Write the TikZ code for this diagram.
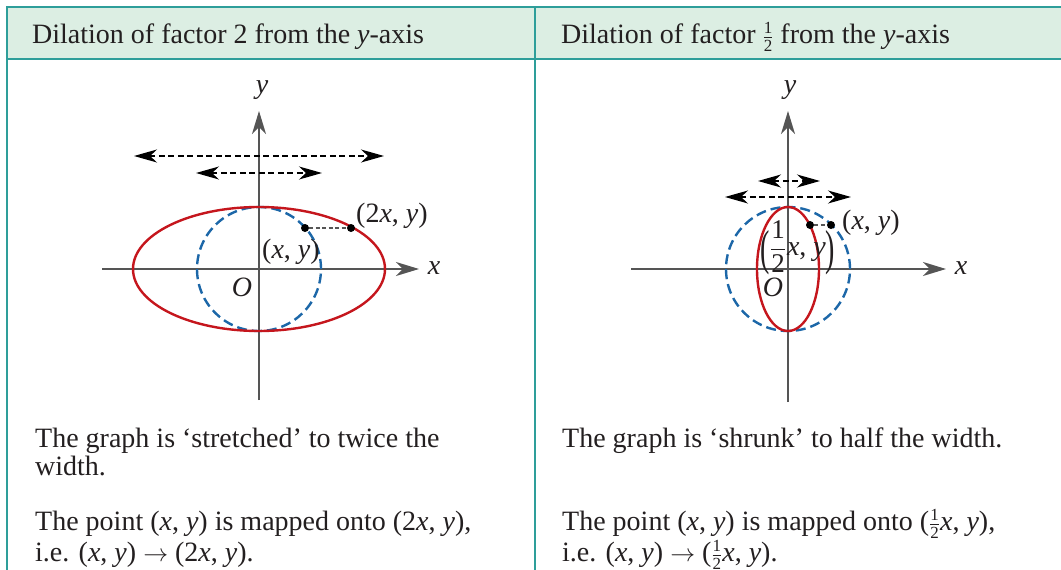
\documentclass[tikz,border=0pt]{standalone}
\usepackage{fontspec}
\setmainfont{Liberation Serif}
\usetikzlibrary{arrows.meta}
\definecolor{tealline}{HTML}{2E9E9A}
\definecolor{hdrfill}{HTML}{DCEEE3}
\definecolor{ellred}{HTML}{C5161D}
\definecolor{circblue}{HTML}{1C67A8}
\definecolor{axgray}{HTML}{555555}
\definecolor{txt}{HTML}{231F20}
\newcommand\ix{\textit{x}}
\newcommand\iy{\textit{y}}
\newcommand\fracdig[1]{\mbox{\fontsize{17}{17}\selectfont #1}}
\newcommand\thalf{$\frac{\fracdig{1}}{\fracdig{2}}$}
\newcommand\bigdig[1]{\mbox{\fontsize{27}{27}\selectfont #1}}
\begin{document}
\begin{tikzpicture}[x=1pt,y=-1pt,
  every node/.style={font=\fontsize{28}{32}\selectfont, inner sep=0pt, text=txt},
  txtline/.style={anchor=base west},
  border/.style={draw=tealline, line width=1.5pt},
  axisline/.style={draw=axgray, line width=1.6pt, -{Stealth[length=23pt,width=14pt,inset=7pt]}, shorten >=-1pt},
  dimarrow/.style={draw=black, line width=1.3pt, dash pattern=on 6pt off 3.5pt,
     {Stealth[length=23pt,width=13pt,inset=7pt]}-{Stealth[length=23pt,width=13pt,inset=7pt]}},
  circ/.style={draw=circblue, line width=2.4pt, dash pattern=on 10pt off 5pt},
  ell/.style={draw=ellred, line width=2.4pt},
  dot/.style={circle, fill=black, minimum size=8pt, inner sep=0pt},
  link/.style={draw=axgray, line width=1.3pt, dash pattern=on 4pt off 2.5pt},
]
\useasboundingbox (0,0) rectangle (1061,570);
% table
\fill[hdrfill] (7,7) rectangle (1061,59);
\draw[border] (1061,7) -- (7,7) -- (7,570);
\draw[border] (7,59) -- (1061,59);
\draw[border] (535,7) -- (535,570);
% headers
\node[txtline] (h1) at (32,43) {Dilation of factor 2 from the \iy-axis};
\node[txtline] (h2) at (561,43) {Dilation of factor \thalf{} from the \iy-axis};

% ---------- left diagram ----------
\coordinate (lxs) at (102,269); \coordinate (lxe) at (418,269);
\coordinate (lys) at (259,400); \coordinate (lye) at (259,112);
\draw[axisline] (lxs) -- (lxe);
\draw[axisline] (lys) -- (lye);
\node (lxl) at (434,268) {\ix};
\node (lyl) at (262,90) {\iy};
\node (lO) at (242,287) {\textit{O}};
\draw[circ] (259,269) circle[radius=62pt];
\draw[ell] (259,269) ellipse[x radius=126pt, y radius=62pt];
\coordinate (la1) at (134,156); \coordinate (la2) at (384,156);
\coordinate (lb1) at (196,173); \coordinate (lb2) at (322,173);
\draw[dimarrow] (la1) -- (la2);
\draw[dimarrow] (lb1) -- (lb2);
\node[dot] (lp) at (305,228) {};
\node[dot] (lq) at (351,228) {};
\draw[link] (lp) -- (lq);
\node[anchor=west] (lql) at (356,216) {(2\ix, \iy)};
\node (lpl) at (291,252) {(\ix, \iy)};

% ---------- right diagram ----------
\coordinate (rxs) at (631,269); \coordinate (rxe) at (945,269);
\coordinate (rys) at (788,402); \coordinate (rye) at (788,112);
\draw[axisline] (rxs) -- (rxe);
\draw[axisline] (rys) -- (rye);
\node (rxl) at (961,268) {\ix};
\node (ryl) at (790,90) {\iy};
\node (rO) at (773,287) {\textit{O}};
\draw[circ] (788,269) circle[radius=62pt];
\draw[ell] (788,269) ellipse[x radius=31pt, y radius=62pt];
\coordinate (ra1) at (758,181); \coordinate (ra2) at (820,181);
\coordinate (rb1) at (725,197); \coordinate (rb2) at (851,197);
\draw[dimarrow] (ra1) -- (ra2);
\draw[dimarrow] (rb1) -- (rb2);
\node[dot] (rp) at (810,225) {};
\node[dot] (rq) at (831,225) {};
\draw[link] (rp) -- (rq);
\node[anchor=west] (rql) at (842,223) {(\ix, \iy)};
\node (rpl) at (798,248) {\raisebox{-0.33em}{\scalebox{1}[1.75]{(}}$\displaystyle\frac{\bigdig{1}}{\bigdig{2}}$\kern1pt\ix, \iy\raisebox{-0.33em}{\scalebox{1}[1.75]{)}}};

% ---------- bottom texts ----------
\node[txtline] (t1) at (35,447) {The graph is ‘stretched’ to twice the};
\node[txtline] (t2) at (35,475) {width.};
\node[txtline] (t3) at (35,530) {The point (\ix, \iy) is mapped onto (2\ix, \iy),};
\node[txtline] (t4) at (35,561) {i.e. (\ix, \iy) $\rightarrow$ (2\ix, \iy).};
\node[txtline] (u1) at (562,447) {The graph is ‘shrunk’ to half the width.};
\node[txtline] (u3) at (562,530) {The point (\ix, \iy) is mapped onto (\thalf\ix, \iy),};
\node[txtline] (u4) at (562,561) {i.e. (\ix, \iy) $\rightarrow$ (\thalf\ix, \iy).};
\end{tikzpicture}
\end{document}
